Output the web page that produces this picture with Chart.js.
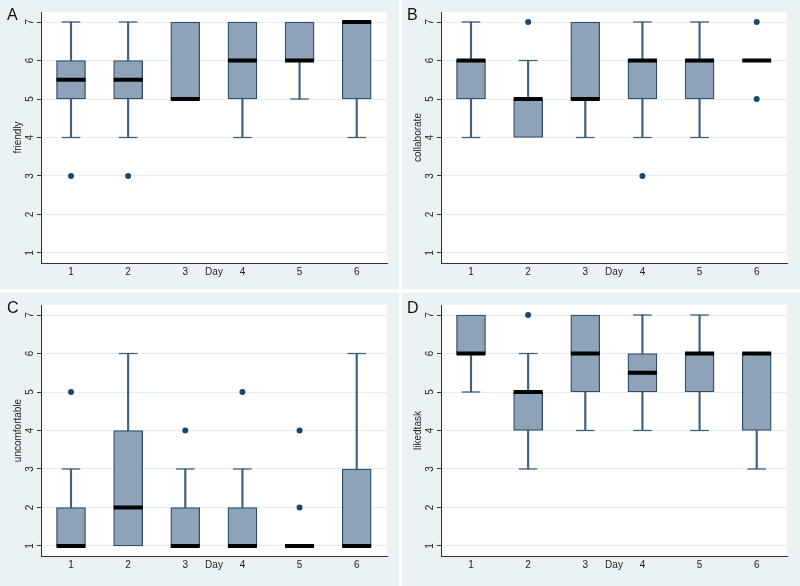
<!DOCTYPE html>
<html><head><meta charset="utf-8">
<script src="https://cdn.jsdelivr.net/npm/chart.js@4"></script>
<style>
html,body{margin:0;padding:0;background:#fff;}
#wrap{position:relative;width:800px;height:586px;overflow:hidden;}
.panel{position:absolute;width:400px;height:293px;}
.panel canvas{position:absolute;left:0;top:0;}
.letter{position:absolute;left:7px;top:7px;font:16px/16px "Liberation Sans",Arial,sans-serif;color:#111;}
</style></head>
<body><div id="wrap">
<div class="panel" style="left:0;top:0"><canvas id="cA" width="400" height="293"></canvas><div class="letter">A</div></div>
<div class="panel" style="left:400px;top:0"><canvas id="cB" width="400" height="293"></canvas><div class="letter" style="left:7px">B</div></div>
<div class="panel" style="left:0;top:293px"><canvas id="cC" width="400" height="293"></canvas><div class="letter">C</div></div>
<div class="panel" style="left:400px;top:293px"><canvas id="cD" width="400" height="293"></canvas><div class="letter" style="left:7px">D</div></div>
</div>
<script>
// ---- data ----
const days = [1, 2, 3, 4, 5, 6];
const dayLabels = ['1', '2', '3', '4', '5', '6'];
const yTicks = [1, 2, 3, 4, 5, 6, 7];

const friendlyLow  = [4, 4, 5, 4, 5, 4];
const friendlyQ1   = [5, 5, 5, 5, 6, 5];
const friendlyMed  = [5.5, 5.5, 5, 6, 6, 7];
const friendlyQ3   = [6, 6, 7, 7, 7, 7];
const friendlyHigh = [7, 7, 7, 7, 7, 7];
const friendlyOut  = [[3], [3], [], [], [], []];

const collabLow  = [4, 4, 4, 4, 4, 6];
const collabQ1   = [5, 4, 5, 5, 5, 6];
const collabMed  = [6, 5, 5, 6, 6, 6];
const collabQ3   = [6, 5, 7, 6, 6, 6];
const collabHigh = [7, 6, 7, 7, 7, 6];
const collabOut  = [[], [7], [], [3], [], [5, 7]];

const uncomfLow  = [1, 1, 1, 1, 1, 1];
const uncomfQ1   = [1, 1, 1, 1, 1, 1];
const uncomfMed  = [1, 2, 1, 1, 1, 1];
const uncomfQ3   = [2, 4, 2, 2, 1, 3];
const uncomfHigh = [3, 6, 3, 3, 1, 6];
const uncomfOut  = [[5], [], [4], [5], [2, 4], []];

const likedLow  = [5, 3, 4, 4, 4, 3];
const likedQ1   = [6, 4, 5, 5, 5, 4];
const likedMed  = [6, 5, 6, 5.5, 6, 6];
const likedQ3   = [7, 5, 7, 6, 6, 6];
const likedHigh = [7, 6, 7, 7, 7, 6];
const likedOut  = [[], [7], [], [], [], []];

// ---- styles ----
const FONT = '"Liberation Sans", Arial, sans-serif';
const BOX_FILL = '#8ea3b7';
const BOX_LINE = '#2d4d6c';
const WHISKER = '#3f5f7f';
const DOT = '#1a476f';
const AXIS = '#333333';
const GRID = '#e4edef';
const PANEL_BG = '#eaf2f3';

const bgPlugin = {
  id: 'panelBg',
  beforeDraw(chart, args, opts) {
    const { ctx, chartArea: a } = chart;
    ctx.save();
    ctx.fillStyle = PANEL_BG;
    ctx.fillRect(opts.x0, 0, opts.x1 - opts.x0, opts.h);
    ctx.fillStyle = '#ffffff';
    ctx.fillRect(a.left, a.top, a.right - a.left, a.bottom - a.top);
    ctx.restore();
  }
};

function buildDatasets(lo, q1, med, q3, hi, out) {
  const whiskLow = [], whiskHigh = [], boxes = [], caps = [], meds = [], dots = [];
  days.forEach((d, i) => {
    if (lo[i] < q1[i]) { whiskLow.push({ x: d, y: [lo[i], q1[i]] }); caps.push({ x: d, y: lo[i] }); }
    if (hi[i] > q3[i]) { whiskHigh.push({ x: d, y: [q3[i], hi[i]] }); caps.push({ x: d, y: hi[i] }); }
    if (q3[i] > q1[i]) boxes.push({ x: d, y: [q1[i], q3[i]] });
    meds.push({ x: d, y: med[i] });
    out[i].forEach(v => dots.push({ x: d, y: v }));
  });
  return [
    { type: 'scatter', data: dots, pointStyle: 'circle', pointRadius: 3, pointBackgroundColor: DOT, pointBorderColor: DOT, pointBorderWidth: 0, order: 0 },
    { type: 'scatter', data: meds, pointStyle: 'line', pointRadius: 14.5, pointBorderWidth: 4, pointBorderColor: '#000000', order: 1 },
    { type: 'scatter', data: caps, pointStyle: 'line', pointRadius: 9.3, pointBorderWidth: 1.3, pointBorderColor: WHISKER, order: 2 },
    { type: 'bar', data: boxes, barThickness: 29, backgroundColor: BOX_FILL, borderColor: BOX_LINE, borderWidth: 1.3, borderSkipped: false, grouped: false, order: 3 },
    { type: 'bar', data: whiskLow, barThickness: 1.5, backgroundColor: WHISKER, borderWidth: 0, grouped: false, order: 4 },
    { type: 'bar', data: whiskHigh, barThickness: 1.5, backgroundColor: WHISKER, borderWidth: 0, grouped: false, order: 4 }
  ];
}

function zeroPad(s) { s.paddingTop = 0; s.paddingBottom = 0; s.paddingLeft = 0; s.paddingRight = 0; }

function makeChart(id, yTitle, sets, x0, x1, h) {
  new Chart(document.getElementById(id), {
    type: 'bar',
    data: { datasets: buildDatasets(...sets) },
    plugins: [bgPlugin],
    options: {
      responsive: false,
      animation: false,
      events: [],
      layout: { autoPadding: false, padding: { left: 0, top: 12, right: 13, bottom: 0 } },
      plugins: { legend: { display: false }, tooltip: { enabled: false }, panelBg: { x0, x1, h } },
      scales: {
        x: {
          type: 'linear', min: 0.475, max: 6.53, offset: false,
          afterBuildTicks: s => { s.ticks = days.map(v => ({ value: v })); },
          afterFit: s => { s.height = 30; zeroPad(s); },
          grid: { display: false, drawTicks: false, offset: false },
          border: { display: true, color: AXIS, width: 1 },
          ticks: { autoSkip: false, padding: 3, color: '#222', font: { family: FONT, size: 10 },
                   callback: v => { const k = days.indexOf(v); return k >= 0 ? dayLabels[k] : ''; } },
          title: { display: true, text: 'Day', color: '#222', font: { family: FONT, size: 10 }, padding: { top: 0, bottom: 15 } }
        },
        y: {
          type: 'linear', min: 0.74, max: 7.26,
          afterBuildTicks: s => { s.ticks = yTicks.map(v => ({ value: v })); },
          afterFit: s => { s.width = 41; zeroPad(s); },
          grid: { color: GRID, lineWidth: 1, drawTicks: true, tickLength: 4, tickColor: AXIS, tickWidth: 1 },
          border: { display: true, color: AXIS, width: 1 },
          ticks: { autoSkip: false, minRotation: 90, maxRotation: 90, crossAlign: 'center', padding: 4, color: '#222',
                   font: { family: FONT, size: 10 }, callback: v => String(v) },
          title: { display: true, text: yTitle, color: '#222', font: { family: FONT, size: 10 }, padding: { top: 12, bottom: 0 } }
        }
      }
    }
  });
}

makeChart('cA', 'friendly', [friendlyLow, friendlyQ1, friendlyMed, friendlyQ3, friendlyHigh, friendlyOut], 0, 399, 289);
makeChart('cB', 'collaborate', [collabLow, collabQ1, collabMed, collabQ3, collabHigh, collabOut], 2, 400, 289);
makeChart('cC', 'uncomfortable', [uncomfLow, uncomfQ1, uncomfMed, uncomfQ3, uncomfHigh, uncomfOut], 0, 399, 293);
makeChart('cD', 'likedtask', [likedLow, likedQ1, likedMed, likedQ3, likedHigh, likedOut], 2, 400, 293);
</script>
</body></html>
